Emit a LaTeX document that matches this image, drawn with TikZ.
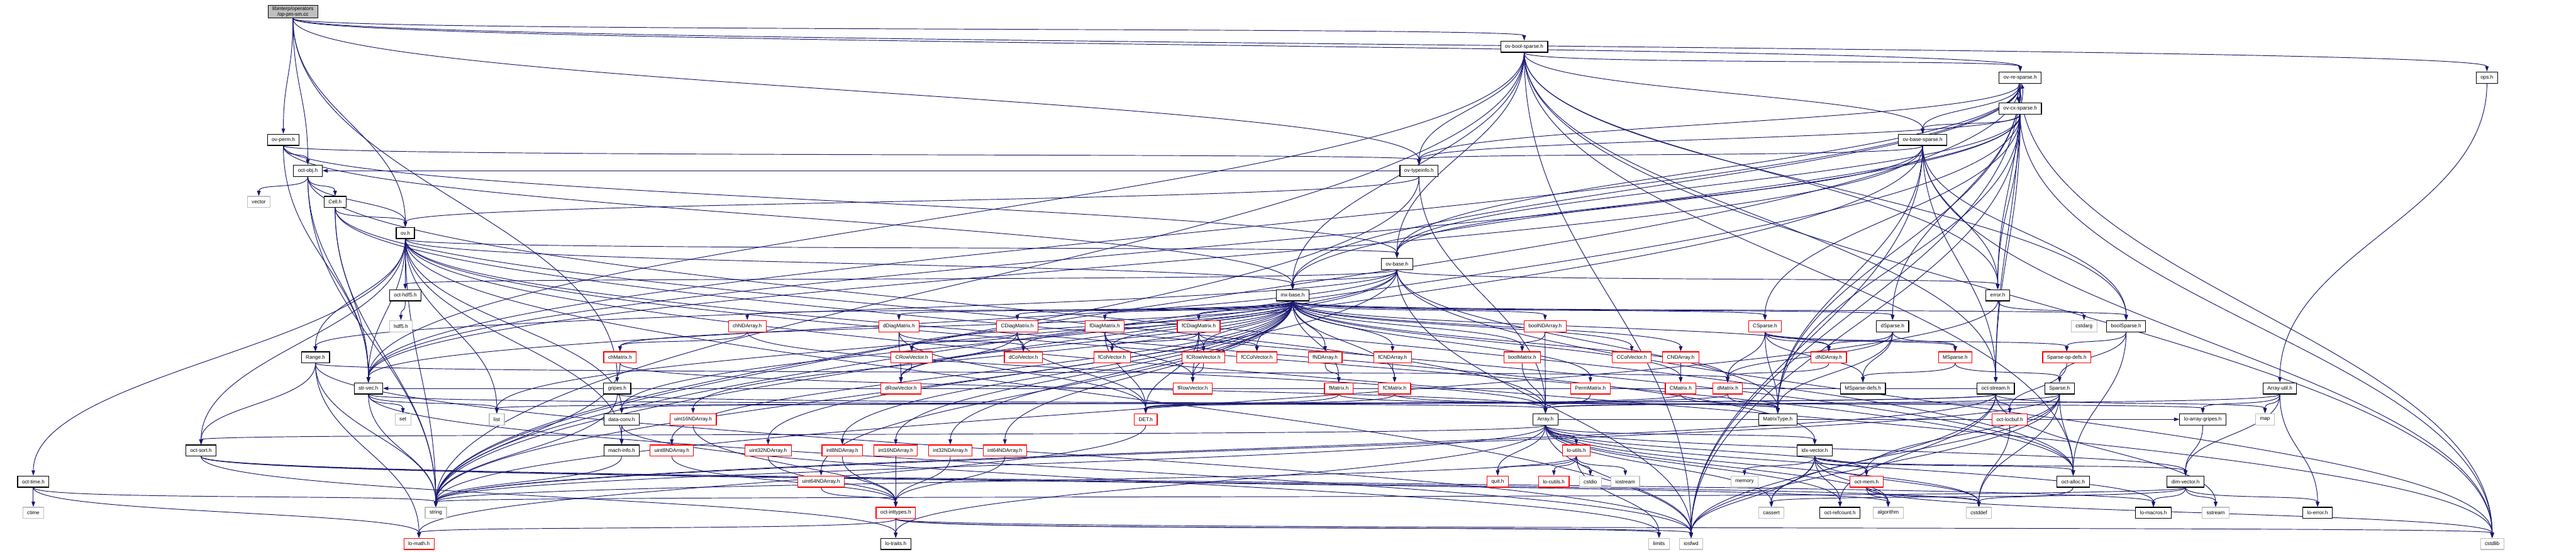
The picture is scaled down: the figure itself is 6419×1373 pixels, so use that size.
\documentclass[tikz,border=0pt]{standalone}
\usepackage{fontspec}
\setmainfont{Liberation Sans}
\usetikzlibrary{arrows.meta}
\pgfdeclarelayer{bg}
\pgfsetlayers{bg,main}
\definecolor{edgec}{HTML}{191970}
\definecolor{grayb}{HTML}{BFBFBF}
\definecolor{redb}{HTML}{FF0000}
\newdimen\myya
\newdimen\myyb
\tikzset{
  nd/.style={draw, fill=white, line width=0.9pt, minimum height=14pt, inner xsep=5.5pt, inner ysep=1pt,
    font=\fontsize{6.4pt}{7.6pt}\selectfont},
  nb/.style={nd, draw=black},
  nr/.style={nd, draw=redb},
  ng/.style={nd, draw=grayb},
  dep/.style={draw=edgec, line width=0.75pt, -{Triangle[length=6.5pt,width=4.4pt]}}
}
\begin{document}
\begin{tikzpicture}[x=0.5pt,y=-0.5pt]
\useasboundingbox (0,0) rectangle (6419,1373);
% rank 0
\node[nb, fill=grayb, align=center] (opc) at (730,29.5) {libinterp/operators\\/op-pm-sm.cc};
% rank 1-8
\node[nb] (obs) at (3798,116) {ov-bool-sparse.h};
\node[nb] (ors) at (5034,193) {ov-re-sparse.h};
\node[nb] (ops) at (6197,193) {ops.h};
\node[nb] (ocs) at (5034,270) {ov-cx-sparse.h};
\node[nb] (operm) at (706,348) {ov-perm.h};
\node[nb] (obsp) at (4791,348) {ov-base-sparse.h};
\node[nb] (oobj) at (767,425) {oct-obj.h};
\node[nb] (otyp) at (3536,425) {ov-typeinfo.h};
\node[ng] (vec) at (645,503) {vector};
\node[nb] (cell) at (835,503) {Cell.h};
\node[nb] (ov) at (1010,580) {ov.h};
\node[nb] (ovb) at (3481,657) {ov-base.h};
% rank 9
\node[nb] (hdf5h) at (1010,735) {oct-hdf5.h};
\node[nb] (mxb) at (3221,735) {mx-base.h};
\node[nb] (err) at (4978,735) {error.h};
% rank 10
\node[ng] (hdf5) at (999,812) {hdf5.h};
\node[nr] (chnd) at (1862,812) {chNDArray.h};
\node[nr] (ddiag) at (2240,812) {dDiagMatrix.h};
\node[nr] (cdiag) at (2535,812) {CDiagMatrix.h};
\node[nr] (fdiag) at (2753,812) {fDiagMatrix.h};
\node[nr] (fcdiag) at (2987,812) {fCDiagMatrix.h};
\node[nr] (boolnd) at (3850,812) {boolNDArray.h};
\node[nr] (csp) at (4398,812) {CSparse.h};
\node[nb] (dsp) at (4716,812) {dSparse.h};
\node[ng] (cstdarg) at (5193,812) {cstdarg};
\node[nb] (boolsp) at (5298,812) {boolSparse.h};
% rank 11
\node[nb] (range) at (786,890) {Range.h};
\node[nr] (chm) at (1545,890) {chMatrix.h};
\node[nr] (crow) at (2272,890) {CRowVector.h};
\node[nr] (dcol) at (2550,890) {dColVector.h};
\node[nr] (fcol) at (2771,890) {fColVector.h};
\node[nr] (fcrow) at (2999,890) {fCRowVector.h};
\node[nr] (fccol) at (3132,890) {fCColVector.h};
\node[nr] (fnd) at (3302,890) {fNDArray.h};
\node[nr] (fcnd) at (3470,890) {fCNDArray.h};
\node[nr] (boolm) at (3793,890) {boolMatrix.h};
\node[nr] (ccol) at (4066,890) {CColVector.h};
\node[nr] (cnd) at (4188,890) {CNDArray.h};
\node[nr] (dnd) at (4557,890) {dNDArray.h};
\node[nr] (msp) at (4872,890) {MSparse.h};
\node[nr] (spops) at (5150,890) {Sparse-op-defs.h};
% rank 12
\node[nb] (strvec) at (918,967) {str-vec.h};
\node[nb] (gripes) at (1538,967) {gripes.h};
\node[nr] (drow) at (2245,967) {dRowVector.h};
\node[nr] (frow) at (2972,967) {fRowVector.h};
\node[nr] (fm) at (3336,967) {fMatrix.h};
\node[nr] (fcm) at (3475,967) {fCMatrix.h};
\node[nr] (perm) at (3963,967) {PermMatrix.h};
\node[nr] (cm) at (4188,967) {CMatrix.h};
\node[nr] (dm) at (4305,967) {dMatrix.h};
\node[nb] (mspdefs) at (4642,967) {MSparse-defs.h};
\node[nb] (ostream) at (4973,967) {oct-stream.h};
\node[nb] (sparse) at (5132,967) {Sparse.h};
\node[nb] (autil) at (5681,967) {Array-util.h};
% rank 13
\node[ng] (set) at (1004,1044) {set};
\node[ng] (list) at (1238,1044) {list};
\node[nb] (dconv) at (1549,1044) {data-conv.h};
\node[nr] (u16) at (1727,1044) {uint16NDArray.h};
\node[nr] (det) at (2855,1044) {DET.h};
\node[nb] (array) at (3851,1044) {Array.h};
\node[nb] (mtype) at (4430,1044) {MatrixType.h};
\node[nr] (locbuf) at (5008,1044) {oct-locbuf.h};
\node[nb] (agripes) at (5489,1044) {lo-array-gripes.h};
\node[ng] (map) at (5644,1044) {map};
% rank 14
\node[nb] (osort) at (501,1122) {oct-sort.h};
\node[nb] (machinfo) at (1549,1122) {mach-info.h};
\node[nr] (u8) at (1674,1122) {uint8NDArray.h};
\node[nr] (u32) at (1914,1122) {uint32NDArray.h};
\node[nr] (i8) at (2099,1122) {int8NDArray.h};
\node[nr] (i16) at (2232,1122) {int16NDArray.h};
\node[nr] (i32) at (2368,1122) {int32NDArray.h};
\node[nr] (i64) at (2504,1122) {int64NDArray.h};
\node[nr] (loutils) at (3928,1122) {lo-utils.h};
\node[nb] (idx) at (4522,1122) {idx-vector.h};
% rank 15
\node[nb] (otime) at (83,1199) {oct-time.h};
\node[nr] (u64) at (2046,1199) {uint64NDArray.h};
\node[nr] (quit) at (3732,1199) {quit.h};
\node[nr] (lcutils) at (3872,1199) {lo-cutils.h};
\node[ng] (cstdio) at (3963,1199) {cstdio};
\node[ng] (iostream) at (4050,1199) {iostream};
\node[ng] (memory) at (4347,1199) {memory};
\node[nr] (omem) at (4651,1199) {oct-mem.h};
\node[nb] (oalloc) at (5166,1199) {oct-alloc.h};
\node[nb] (dimv) at (5446,1199) {dim-vector.h};
% rank 16
\node[ng] (ctime) at (83,1277) {ctime};
\node[ng] (string) at (1086,1277) {string};
\node[nr] (inttypes) at (2232,1277) {oct-inttypes.h};
\node[ng] (cassert) at (4414,1277) {cassert};
\node[nb] (orefc) at (4585,1277) {oct-refcount.h};
\node[ng] (algorithm) at (4705,1277) {algorithm};
\node[ng] (cstddef) at (4931,1277) {cstddef};
\node[nb] (lmacros) at (5366,1277) {lo-macros.h};
\node[ng] (sstream) at (5521,1277) {sstream};
\node[nb] (lerror) at (5775,1277) {lo-error.h};
% rank 17
\node[nr] (lmath) at (1044,1354) {lo-math.h};
\node[nb] (ltraits) at (2232,1354) {lo-traits.h};
\node[ng] (limits) at (4134,1354) {limits};
\node[ng] (iosfwd) at (4214,1354) {iosfwd};
\node[ng] (cstdlib) at (6210,1354) {cstdlib};

\begin{pgfonlayer}{bg}
\foreach \s/\t in {
 opc/gripes, opc/oobj, opc/ov, opc/otyp, opc/ops, opc/operm, opc/ors, opc/obs,
 operm/oobj, operm/ovb, operm/otyp, operm/mxb, operm/strvec,
 oobj/vec, oobj/cell, oobj/ov, oobj/strvec, oobj/string, oobj/oalloc,
 cell/ov, cell/array, cell/oalloc, cell/strvec, cell/string,
 ov/cstdlib, ov/iosfwd, ov/string, ov/list, ov/range, ov/dconv, ov/idx, ov/machinfo, ov/mxb,
 ov/oalloc, ov/otime, ov/strvec, ov/hdf5h, ov/osort, ov/ovb,
 otyp/string, otyp/array, otyp/ov,
 ops/autil,
 ovb/cstdlib, ovb/iosfwd, ovb/list, ovb/string, ovb/range, ovb/dconv, ovb/mxb, ovb/strvec,
 ovb/err, ovb/hdf5h, ovb/mtype,
 obs/cstdlib, obs/iosfwd, obs/string, obs/mxb, obs/strvec, obs/oalloc, obs/err, obs/ostream,
 obs/ovb, obs/otyp, obs/boolsp, obs/obsp, obs/ors,
 ors/cstdlib, ors/iosfwd, ors/string, ors/mxb, ors/strvec, ors/err, ors/ostream, ors/ovb,
 ors/otyp, ors/dsp, ors/mtype, ors/obsp,
 ocs/cstdlib, ocs/iosfwd, ocs/string, ocs/mxb, ocs/strvec, ocs/err, ocs/ostream, ocs/ovb,
 ocs/otyp, ocs/csp, ocs/mtype, ocs/obsp,
 obsp/cstdlib, obsp/iosfwd, obsp/string, obsp/strvec, obsp/err, obsp/ostream, obsp/ovb,
 obsp/otyp, obsp/boolsp, obsp/mtype,
 hdf5h/hdf5,
 mxb/boolm, mxb/boolnd, mxb/chm, mxb/chnd, mxb/dm, mxb/cm, mxb/fm, mxb/fcm, mxb/dcol, mxb/ccol,
 mxb/fcol, mxb/fccol, mxb/drow, mxb/crow, mxb/frow, mxb/fcrow, mxb/ddiag, mxb/cdiag, mxb/fdiag,
 mxb/fcdiag, mxb/perm, mxb/dnd, mxb/cnd, mxb/fnd, mxb/fcnd, mxb/i8, mxb/i16, mxb/i32, mxb/i64,
 mxb/u8, mxb/u16, mxb/u32, mxb/u64, mxb/boolsp, mxb/dsp, mxb/csp,
 err/cstdarg, err/string,
 chnd/chm, chnd/array, chm/string, chm/array,
 ddiag/dcol, ddiag/drow, ddiag/det,
 cdiag/crow, cdiag/dcol, cdiag/drow, cdiag/det,
 fdiag/fcol, fdiag/frow, fdiag/det,
 fcdiag/fcol, fcdiag/fcrow, fcdiag/fccol, fcdiag/frow, fcdiag/det,
 crow/drow, fcrow/frow,
 boolnd/boolm, boolnd/array, boolm/array, perm/array,
 fnd/fm, fcnd/fcm, cnd/cm, dnd/dm,
 fm/det, fm/mtype, fcm/det, fcm/mtype, cm/det, cm/mtype, dm/det, dm/mtype,
 csp/dnd, csp/dm, csp/mtype, csp/msp, csp/mspdefs, csp/spops,
 dsp/dnd, dsp/mspdefs, dsp/msp, dsp/mtype, dsp/dm,
 boolsp/spops, boolsp/oalloc, boolsp/sparse,
 msp/mspdefs, msp/sparse, spops/locbuf,
 sparse/array, sparse/oalloc, sparse/cassert, sparse/cstddef, sparse/iosfwd, sparse/string, sparse/omem,
 array/loutils, array/quit, array/idx, array/dimv, array/osort, array/omem,
 array/orefc, array/cassert, array/cstddef, array/algorithm, array/iosfwd, array/lmacros, array/string,
 array/ltraits,
 loutils/quit, loutils/lcutils, loutils/cstdio, loutils/iostream, loutils/string, loutils/limits,
 idx/memory, idx/omem, idx/cassert, idx/orefc, idx/algorithm, idx/cstddef, idx/oalloc, idx/iosfwd, idx/dimv,
 dimv/lmacros, dimv/sstream, dimv/lerror, dimv/cassert, dimv/string,
 autil/agripes, autil/dimv, autil/array, autil/map, autil/lerror, agripes/dimv,
 oalloc/cstddef, omem/cstddef, omem/algorithm, omem/cstdlib, locbuf/cstddef,
 ostream/locbuf, ostream/string, ostream/list, ostream/map, ostream/iosfwd, ostream/sstream,
 ostream/dconv, ostream/orefc,
 strvec/set, strvec/string, strvec/array, strvec/iosfwd, strvec/list,
 range/osort, range/iosfwd, range/dm, range/lmath, range/string,
 otime/ctime, otime/string, otime/lmath,
 dconv/machinfo, dconv/limits, machinfo/string,
 gripes/string, gripes/agripes,
 osort/ltraits, osort/algorithm, osort/cstddef, osort/lmacros,
 det/lmath,
 inttypes/ltraits, inttypes/lmath, inttypes/limits, inttypes/iosfwd, inttypes/cstdlib,
 u8/inttypes, u16/inttypes, u32/inttypes, u64/inttypes, i8/inttypes, i16/inttypes, i32/inttypes, i64/inttypes}
 {%
  \pgfextracty{\myya}{\pgfpointanchor{\s}{center}}%
  \pgfextracty{\myyb}{\pgfpointanchor{\t}{center}}%
  \pgfmathsetmacro{\cd}{max(5,0.42*abs(\myya-\myyb))}%
  \draw[dep] (\s.south) .. controls +(0,-\cd pt) and +(0,\cd pt) .. (\t.north);
 }
% flat edges
\draw[dep] (otyp) -- (oobj);
\draw[dep] (array) -- (agripes);
\draw[dep] (ostream) -- (strvec);
% mutual includes
\draw[dep] (ors) to[bend right=12] (ocs);
\draw[dep] (ocs) to[bend right=12] (ors);
\end{pgfonlayer}
\end{tikzpicture}
\end{document}
